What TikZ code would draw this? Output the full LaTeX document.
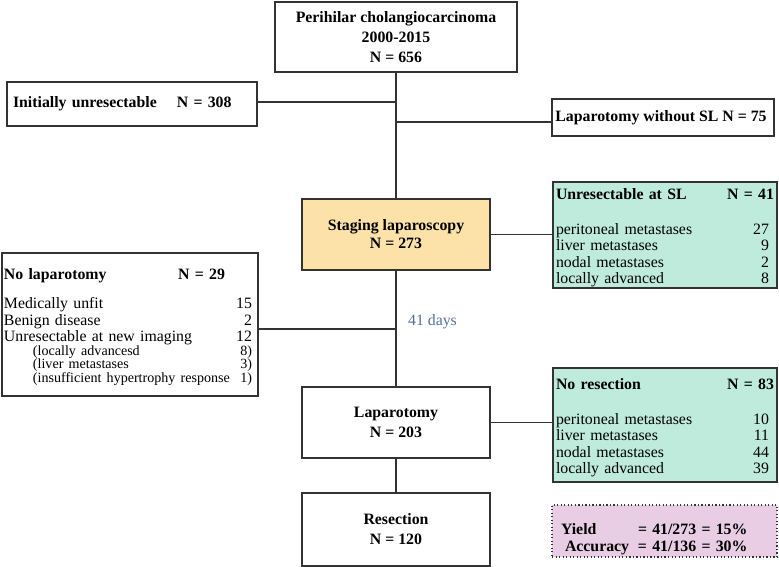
\documentclass[tikz,border=0pt]{standalone}
\usepackage{fontspec}
\setmainfont{Liberation Serif}
\usetikzlibrary{positioning}
\definecolor{slcolor}{RGB}{252,226,168}
\definecolor{mintcolor}{RGB}{190,235,220}
\definecolor{yieldcolor}{RGB}{233,205,229}
\definecolor{dayscolor}{RGB}{84,110,158}
\definecolor{linecolor}{RGB}{51,51,51}
\newlength{\unitpx}\setlength{\unitpx}{0.03cm}
\newcommand{\entry}[2]{\par\hbox to\hsize{#1\hfil#2}}
\newcommand{\subentry}[2]{\par\hbox to\hsize{\hspace*{29\unitpx}#1\hfil#2}}

\begin{document}
\begin{tikzpicture}[x=0.03cm, y=-0.03cm]
  \tikzset{
    box/.style={
      draw=linecolor,
      line width=1pt,
      fill=white,
      inner sep=0pt,
      align=center,
      font=\fontsize{13.5}{17}\selectfont\bfseries
    },
    boxsize/.style 2 args={
      minimum width=#1*\unitpx,
      minimum height=#2*\unitpx
    },
    listbox/.style={
      box,
      fill=mintcolor,
      align=left,
      inner xsep=3\unitpx,
      font=\fontsize{13.5}{14}\selectfont
    },
    yieldbox/.style={
      box,
      fill=yieldcolor,
      dotted,
      align=left,
      inner xsep=9\unitpx,
      font=\fontsize{13.5}{14.5}\selectfont\bfseries
    },
    link/.style={
      draw=linecolor,
      line width=1pt
    },
    days/.style={
      font=\fontsize{13.5}{14}\selectfont,
      text=dayscolor
    }
  }
  \useasboundingbox (0,0) rectangle (779,567);

  % Main column
  \node[box, boxsize={242}{70}] at (396,37) (top) {
    Perihilar cholangiocarcinoma\\2000-2015\\N = 656
  };
  \node[box, boxsize={188}{71}, fill=slcolor, font=\fontsize{13.5}{15.5}\selectfont\bfseries] at (396,234.5) (sl) {
    Staging laparoscopy\\N = 273
  };
  \node[box, boxsize={188}{71}] at (396,422.5) (lap) {
    Laparotomy\\N = 203
  };
  \node[box, boxsize={188}{73}] at (396,529.5) (res) {
    Resection\\N = 120
  };

  % Side boxes
  \node[box, boxsize={250}{44}, align=left, inner xsep=6\unitpx, text width=238*\unitpx] at (132,104) (init) {
    Initially unresectable\hspace{20\unitpx}N = 308
  };
  \node[box, boxsize={222}{37}] at (663,117.5) (lapwo) {
    Laparotomy without SL N = 75
  };
  \node[listbox, boxsize={224}{106}, text width=218*\unitpx] at (665,235) (unres) {
    \entry{\bfseries Unresectable at SL}{\bfseries N = 41}
    \vspace{16pt}
    \entry{peritoneal metastases}{27\hspace{5\unitpx}}
    \entry{liver metastases}{9\hspace{5\unitpx}}
    \entry{nodal metastases}{2\hspace{5\unitpx}}
    \entry{locally advanced}{8\hspace{5\unitpx}}
  };
  \node[listbox, fill=white, boxsize={256}{143}, inner xsep=2\unitpx, text width=252*\unitpx] at (130,324.5) (nolap) {
    \entry{\bfseries No laparotomy}{\bfseries N = 29\hspace{31\unitpx}}
    \vspace{11pt}
    \entry{Medically unfit}{15\hspace{4\unitpx}}
    \entry{Benign disease}{2\hspace{4\unitpx}}
    \entry{Unresectable at new imaging}{12\hspace{4\unitpx}}
    \fontsize{12}{11}\selectfont
    \subentry{(locally advancesd}{8)\hspace{4\unitpx}}
    \subentry{(liver metastases}{3)\hspace{4\unitpx}}
    \subentry{(insufficient hypertrophy response}{1)\hspace{4\unitpx}}
  };
  \node[listbox, boxsize={224}{114}, text width=218*\unitpx] at (665,425) (nores) {
    \entry{\bfseries No resection}{\bfseries N = 83}
    \vspace{16pt}
    \entry{peritoneal metastases}{10\hspace{5\unitpx}}
    \entry{liver metastases}{11\hspace{5\unitpx}}
    \entry{nodal metastases}{44\hspace{5\unitpx}}
    \entry{locally advanced}{39\hspace{5\unitpx}}
  };
  \node[yieldbox, boxsize={225}{52}, text width=207*\unitpx] at (664.5,531) (yield) {
    \par\vspace*{10\unitpx}
    \entry{\makebox[77\unitpx][l]{Yield}= 41/273 = 15\%}{}
    \entry{\makebox[77\unitpx][l]{\hspace{4\unitpx}Accuracy}= 41/136 = 30\%}{}
  };
  \node[days] at (432.5,322) (gap) {41 days};

  % Junctions on the main line
  \coordinate (jinit) at (396,102);
  \coordinate (jwo) at (396,122);
  \coordinate (jnolap) at (396,329);

  % Connectors
  \draw[link] (top) -- (sl);
  \draw[link] (init.east |- jinit) -- (jinit);
  \draw[link] (jwo) -- (jwo -| lapwo.west);
  \draw[link] (sl.east) -- (sl.east -| unres.west);
  \draw[link] (sl) -- (lap);
  \draw[link] (jnolap -| nolap.east) -- (jnolap);
  \draw[link] (lap.east) -- (lap.east -| nores.west);
  \draw[link] (lap) -- (res);
\end{tikzpicture}
\end{document}
